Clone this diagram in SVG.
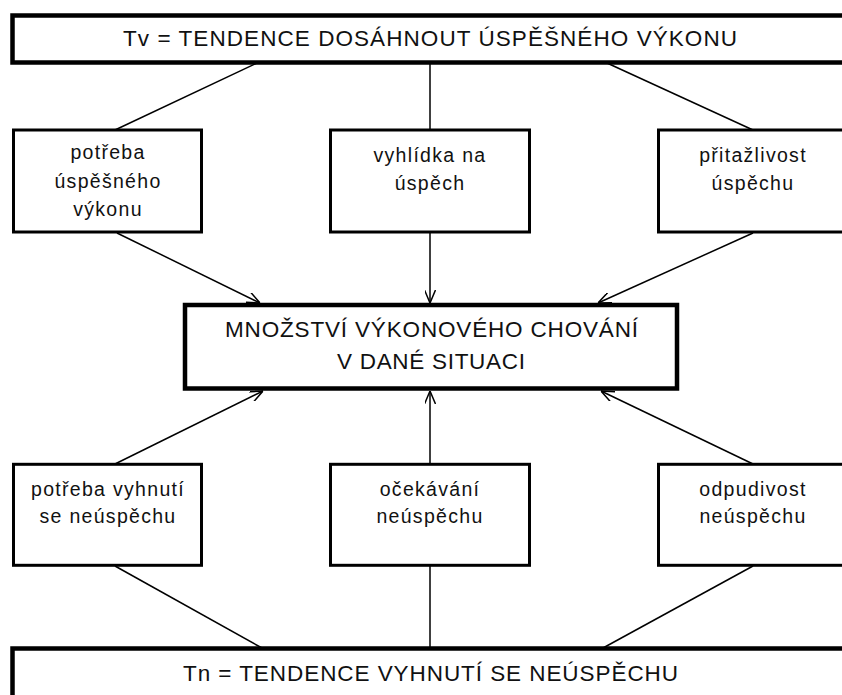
<svg xmlns="http://www.w3.org/2000/svg" width="842" height="695" viewBox="0 0 842 695">
<style>
  .big { fill: #fff; stroke: #000; stroke-width: 4.5; }
  .box { fill: #fff; stroke: #000; stroke-width: 3; }
  .ln { stroke: #000; stroke-width: 1.5; fill: none; }
  text { font-family: "Liberation Sans", Arial, sans-serif; fill: #111; text-anchor: middle; }
  .tb { font-size: 22.5px; }
  .ts { font-size: 19.5px; letter-spacing: 1.3px; }
</style>
<defs>
  <marker id="arr" viewBox="0 0 13 11" refX="13" refY="5.5" markerWidth="13" markerHeight="11" markerUnits="userSpaceOnUse" orient="auto">
    <path d="M0,0 L13,5.5 L0,11" fill="none" stroke="#000" stroke-width="1.5"/>
  </marker>
</defs>
<rect width="842" height="695" fill="#fff"/>

<g id="connectors">
  <line class="ln" x1="257" y1="63" x2="115" y2="130"/>
  <line class="ln" x1="430" y1="63" x2="430" y2="130"/>
  <line class="ln" x1="607" y1="63" x2="753" y2="130"/>
  <line class="ln" x1="117" y1="233" x2="260" y2="303" marker-end="url(#arr)"/>
  <line class="ln" x1="430" y1="233" x2="430" y2="303" marker-end="url(#arr)"/>
  <line class="ln" x1="753" y1="233" x2="598" y2="303" marker-end="url(#arr)"/>
  <line class="ln" x1="115" y1="464" x2="263" y2="391" marker-end="url(#arr)"/>
  <line class="ln" x1="430" y1="464" x2="430" y2="391" marker-end="url(#arr)"/>
  <line class="ln" x1="753" y1="464" x2="601" y2="391" marker-end="url(#arr)"/>
  <line class="ln" x1="115" y1="566" x2="262" y2="648"/>
  <line class="ln" x1="430" y1="566" x2="430" y2="648"/>
  <line class="ln" x1="753" y1="566" x2="603" y2="648"/>
</g>

<g id="tv">
  <rect class="big" x="12.5" y="15.5" width="840" height="47"/>
  <text class="tb" x="430" y="46" textLength="614" lengthAdjust="spacing">Tv = TENDENCE DOSÁHNOUT ÚSPĚŠNÉHO VÝKONU</text>
</g>

<g id="potreba-uspesneho">
  <rect class="box" x="13.5" y="130" width="188" height="102"/>
  <text class="ts" x="108" y="159">potřeba</text>
  <text class="ts" x="108" y="187.5">úspěšného</text>
  <text class="ts" x="108" y="216">výkonu</text>
</g>
<g id="vyhlidka">
  <rect class="box" x="330.5" y="130" width="199" height="102"/>
  <text class="ts" x="430" y="161.5">vyhlídka na</text>
  <text class="ts" x="430" y="190">úspěch</text>
</g>
<g id="pritazlivost">
  <rect class="box" x="658.5" y="130" width="188" height="102"/>
  <text class="ts" x="753" y="161.5">přitažlivost</text>
  <text class="ts" x="753" y="190">úspěchu</text>
</g>

<g id="mnozstvi">
  <rect class="big" x="185" y="305" width="492" height="83.5"/>
  <text class="tb" x="431.5" y="337" textLength="413" lengthAdjust="spacing">MNOŽSTVÍ VÝKONOVÉHO CHOVÁNÍ</text>
  <text class="tb" x="431" y="368.5" textLength="188" lengthAdjust="spacing">V DANÉ SITUACI</text>
</g>

<g id="potreba-vyhnuti">
  <rect class="box" x="13.5" y="464.3" width="188" height="101"/>
  <text class="ts" x="108" y="495.5">potřeba vyhnutí</text>
  <text class="ts" x="108" y="523.3">se neúspěchu</text>
</g>
<g id="ocekavani">
  <rect class="box" x="330.5" y="464.3" width="199" height="101"/>
  <text class="ts" x="430" y="495.5">očekávání</text>
  <text class="ts" x="430" y="523.3">neúspěchu</text>
</g>
<g id="odpudivost">
  <rect class="box" x="658.5" y="464.3" width="188" height="101"/>
  <text class="ts" x="753" y="495.5">odpudivost</text>
  <text class="ts" x="753" y="523.3">neúspěchu</text>
</g>

<g id="tn">
  <rect class="big" x="12.5" y="648.5" width="840" height="60"/>
  <text class="tb" x="430.5" y="680.5" textLength="495" lengthAdjust="spacing">Tn = TENDENCE VYHNUTÍ SE NEÚSPĚCHU</text>
</g>
</svg>
